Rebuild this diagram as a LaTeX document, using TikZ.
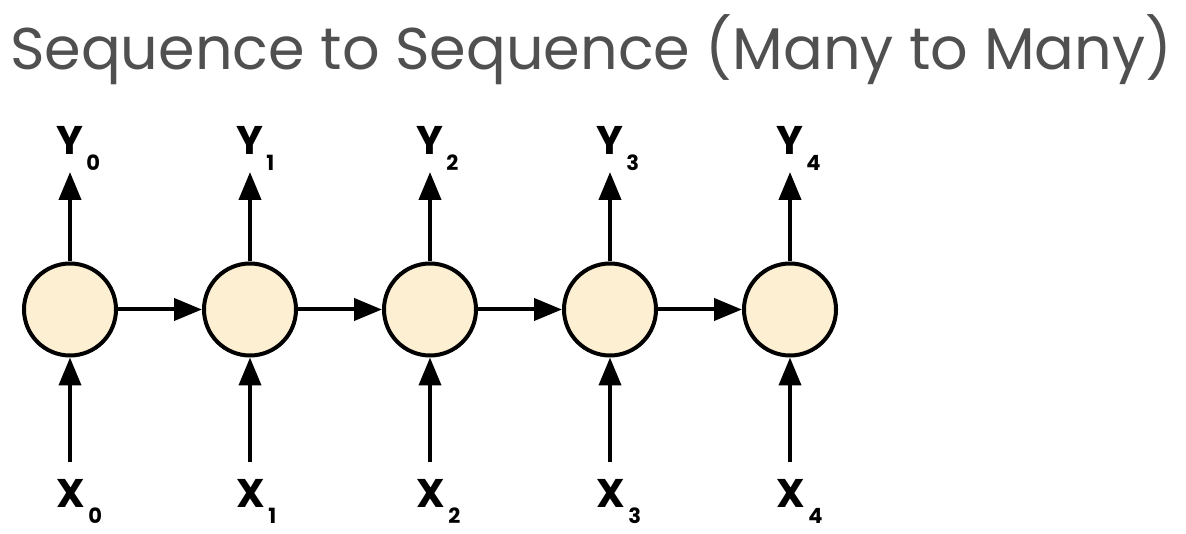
\documentclass[tikz,border=0pt]{standalone}
\usepackage{fontspec}
\setmainfont{Poppins}
\usetikzlibrary{arrows.meta}
\definecolor{cellfill}{RGB}{253,239,210}
\definecolor{titlegray}{RGB}{80,80,80}
\newcommand{\lab}[2]{#1\rlap{\kern3pt\raisebox{-16pt}{\fontsize{21}{21}\selectfont #2}}}
\begin{document}
\begin{tikzpicture}[x=1pt,y=-1pt,
  cell/.style={circle,draw=black,line width=4pt,fill=cellfill,minimum size=92pt,inner sep=0pt},
  conn/.style={line width=4pt,-{Triangle[length=28pt,width=22pt]}},
  lbl/.style={anchor=base,inner sep=0pt,font=\fontsize{40}{40}\selectfont\bfseries}]
\useasboundingbox (0,0) rectangle (1186,534);
\node[anchor=base west,inner sep=0pt,text=titlegray] (title) at (10,70)
  {\resizebox{1162pt}{!}{\fontsize{60}{60}\selectfont Sequence to Sequence (Many to Many)}};
\foreach \i in {0,...,4}{
  \pgfmathsetmacro{\xx}{70+180*\i}
  \node[cell] (c\i) at (\xx,309.5) {};
  \coordinate (yt\i) at (\xx,172);
  \coordinate (xb\i) at (\xx,462);
  \node[lbl] (y\i) at (\xx,155) {\lab{Y}{\i}};
  \node[lbl] (x\i) at (\xx+1,507) {\lab{X}{\i}};
  \draw[conn] (c\i.north) -- (yt\i);
  \draw[conn] (xb\i) -- (c\i.south);
}
\foreach \i/\j in {0/1,1/2,2/3,3/4}{
  \draw[conn] (c\i.east) -- (c\j.west);
}
\end{tikzpicture}
\end{document}
